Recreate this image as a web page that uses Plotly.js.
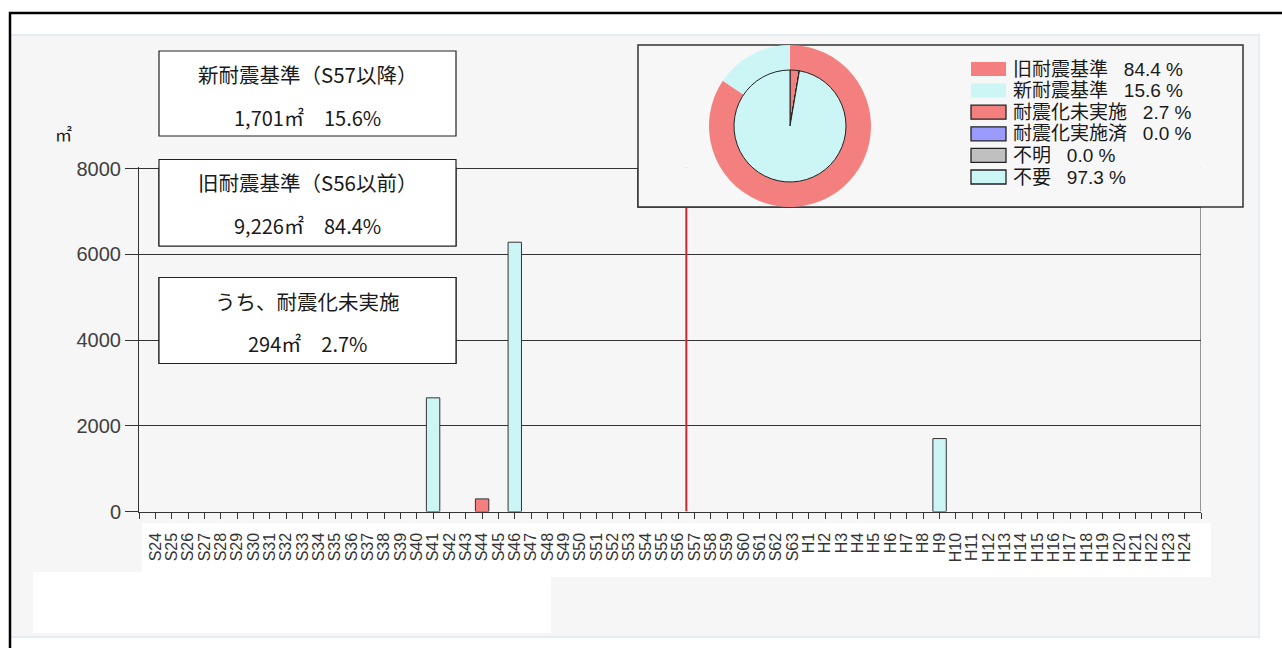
<!DOCTYPE html>
<html><head><meta charset="utf-8">
<script src="https://cdn.plot.ly/plotly-3.0.1.min.js"></script>
<style>html,body{margin:0;padding:0;background:#fff;overflow:hidden}#chart{width:1282px;height:648px}</style>
</head><body><div id="chart"></div>
<script>
// ---------------- data ----------------
const categories = ['S24','S25','S26','S27','S28','S29','S30','S31','S32','S33','S34','S35','S36','S37','S38','S39','S40',
  'S41','S42','S43','S44','S45','S46','S47','S48','S49','S50','S51','S52','S53','S54','S55','S56','S57','S58','S59','S60',
  'S61','S62','S63','H1','H2','H3','H4','H5','H6','H7','H8','H9','H10','H11','H12','H13','H14','H15','H16','H17','H18',
  'H19','H20','H21','H22','H23','H24'];
const barYears  = ['S41', 'S44', 'S46', 'H9'];
const barValues = [2651, 294, 6281, 1701];
const barStatus = ['不要', '耐震化未実施', '不要', '不要'];
const yTickValues = [0, 2000, 4000, 6000, 8000];
const dividerAfter = 'S56';
const unitLabel = '㎡';

const standardLabels = ['旧耐震基準', '新耐震基準'];
const standardAreas  = [9226, 1701];
const statusLabels = ['耐震化未実施', '耐震化実施済', '不明', '不要'];
const statusAreas  = [294, 0, 0, 10633];

const boxTitles = ['新耐震基準（S57以降）', '旧耐震基準（S56以前）', 'うち、耐震化未実施'];
const boxAreas  = [1701, 9226, 294];

// ---------------- styles / layout geometry ----------------
const W = 1282, H = 648;
const PL = 139, PR = 1201, Y0PX = 511.5, YTOPTICKPX = 168.5;
const XMIN = -1, XMAX = categories.length;
const YTOPTICK = 8000, YMAX = 8030;
const RED = '#f47f7f', CYAN = '#ccf6f6', PURPLE = '#9b9bff', GRAY = '#c0c0c0';
const LINE = '#333333';
const FONT = 'Liberation Sans, Arial, Noto Sans CJK JP, sans-serif';
const JFONT = 'Noto Sans CJK JP, sans-serif';
const NB = '\u00a0';

const pxX = px => px / W;
const pxY = py => 1 - py / H;
const ypx = v => Y0PX - v * (Y0PX - YTOPTICKPX) / YTOPTICK;
const dX = px => XMIN + (px - PL) / (PR - PL) * (XMAX - XMIN);
const dY = py => (Y0PX - py) / (Y0PX - YTOPTICKPX) * YTOPTICK;

const total = standardAreas.reduce((a, b) => a + b, 0);
const pct = v => (v / total * 100).toFixed(1);
const idx = categories.map((_, i) => i);

// ---------------- traces ----------------
function barTrace(status, color) {
  const xs = [], ys = [];
  barYears.forEach((yr, i) => { if (barStatus[i] === status) { xs.push(categories.indexOf(yr)); ys.push(barValues[i]); } });
  return { type: 'bar', x: xs, y: ys, width: 0.82, name: status, showlegend: false,
    marker: { color: color, line: { color: LINE, width: 1 } }, hoverinfo: 'skip' };
}
const cx = 790, cy = 126, rOut = 81, rIn = 56;
const traces = [
  barTrace('不要', CYAN),
  barTrace('耐震化未実施', RED),
  { type: 'pie', labels: standardLabels, values: standardAreas, sort: false, direction: 'clockwise',
    hole: 0.6, textinfo: 'none', showlegend: false, hoverinfo: 'skip',
    marker: { colors: [RED, CYAN], line: { width: 0 } },
    domain: { x: [pxX(cx - rOut), pxX(cx + rOut)], y: [pxY(cy + rOut), pxY(cy - rOut)] } },
  { type: 'pie', labels: statusLabels, values: statusAreas, sort: false, direction: 'clockwise',
    textinfo: 'none', showlegend: false, hoverinfo: 'skip',
    marker: { colors: [RED, PURPLE, GRAY, CYAN], line: { color: '#222', width: 1 } },
    domain: { x: [pxX(cx - rIn), pxX(cx + rIn)], y: [pxY(cy + rIn), pxY(cy - rIn)] } }
];

// ---------------- shapes ----------------
const shapes = [];
function paperRect(x0, y0, x1, y1, fill, line, lw, layer) {
  shapes.push({ type: 'rect', xref: 'paper', yref: 'paper', x0: pxX(x0), x1: pxX(x1), y0: pxY(y1), y1: pxY(y0),
    fillcolor: fill, line: { color: line || 'rgba(0,0,0,0)', width: lw || 0 }, layer: layer || 'below' });
}
function dataRect(x0, y0, x1, y1, fill, line, lw) {
  shapes.push({ type: 'rect', xref: 'x', yref: 'y', x0: dX(x0), x1: dX(x1), y0: dY(y1), y1: dY(y0),
    fillcolor: fill, line: { color: line, width: lw }, layer: 'between' });
}
// panel background
paperRect(10, 35, 1259, 637, '#f6f6f6', '#e4edf3', 2);
paperRect(142, 523, 1211, 577, '#ffffff');
paperRect(33, 572, 551, 633, '#ffffff');
// outer frame
paperRect(10, 13, 1300, 680, 'rgba(0,0,0,0)', '#000000', 2.5);
// divider line & right border
const divX = categories.indexOf(dividerAfter) + 0.5;
shapes.push({ type: 'line', xref: 'x', yref: 'y', x0: divX, x1: divX, y0: 0, y1: YMAX, line: { color: '#cc2a2a', width: 2 }, layer: 'between' });
shapes.push({ type: 'line', xref: 'x', yref: 'y', x0: XMAX, x1: XMAX, y0: 0, y1: YMAX, line: { color: LINE, width: 1 }, layer: 'between' });
// legend box
const LB = [638, 45, 1243, 207];
paperRect(LB[0], LB[1], LB[2], LB[3], '#f7f7f7', LINE, 1.5);
dataRect(LB[0], LB[1], LB[2], LB[3], '#f7f7f7', LINE, 1.5);
// info boxes
const boxes = [[159, 51, 456, 136], [159, 159.5, 456, 246], [159, 277.5, 456, 363.5]];
boxes.forEach(b => { paperRect(b[0], b[1], b[2], b[3], '#ffffff', '#222', 1.2); dataRect(b[0], b[1], b[2], b[3], '#ffffff', '#222', 1.2); });

// ---------------- annotations ----------------
const annotations = [];
function txt(x, y, text, size, anchor, family) {
  annotations.push({ xref: 'paper', yref: 'paper', x: pxX(x), y: pxY(y), text: text, showarrow: false,
    xanchor: anchor || 'center', yanchor: 'middle', font: { family: family || JFONT, size: size, color: '#1a1a1a' } });
}
const fmt = n => n.toLocaleString('en-US');
boxes.forEach((b, i) => {
  const mid = (b[0] + b[2]) / 2;
  txt(mid, b[1] + 23, boxTitles[i], 20.5);
  txt(mid, b[1] + 66, fmt(boxAreas[i]) + unitLabel + '　' + pct(boxAreas[i]) + '%', 20);
});
txt(63, 133, unitLabel, 17, 'center');
// legend entries
const legendLabels = standardLabels.concat(statusLabels);
const legendValues = standardAreas.concat(statusAreas);
const legendColors = [RED, CYAN, RED, PURPLE, GRAY, CYAN];
const statusTotal = statusAreas.reduce((a, b) => a + b, 0);
legendLabels.forEach((lab, i) => {
  const yc = 69 + i * 21.6;
  paperRect(971, yc - 7, 1006, yc + 7, legendColors[i], i < 2 ? null : '#222', i < 2 ? 0 : 1.3, 'above');
  const p = (legendValues[i] / (i < 2 ? total : statusTotal) * 100).toFixed(1);
  txt(1011, yc, lab + NB + NB + NB + p + NB + '%', 19, 'left', FONT);
});

// ---------------- layout ----------------
const layout = {
  width: W, height: H, margin: { l: 0, r: 0, t: 0, b: 0, pad: 0 },
  paper_bgcolor: '#ffffff', plot_bgcolor: '#f6f6f6', showlegend: false, bargap: 0,
  xaxis: { domain: [pxX(PL), pxX(PR)], range: [XMIN, XMAX], type: 'linear',
    tickmode: 'array', tickvals: [XMIN].concat(idx, [XMAX]), ticktext: [''].concat(categories, ['']),
    tickangle: -90, ticks: 'outside', ticklen: 6, tickcolor: LINE, showline: true, linecolor: LINE, linewidth: 1,
    ticklabelstandoff: 8,
    showgrid: false, zeroline: false, tickfont: { family: FONT, size: 16, color: '#333' } },
  yaxis: { domain: [pxY(Y0PX), pxY(ypx(YMAX))], range: [0, YMAX],
    tickmode: 'array', tickvals: yTickValues, ticktext: yTickValues.map(String),
    ticks: 'outside', ticklen: 13, tickcolor: LINE, showline: true, linecolor: LINE, linewidth: 1,
    showgrid: true, gridcolor: LINE, gridwidth: 1, zeroline: false,
    tickfont: { family: FONT, size: 20, color: '#404040' } },
  shapes: shapes, annotations: annotations
};
Plotly.newPlot('chart', traces, layout, { staticPlot: true, displayModeBar: false });
</script></body></html>
